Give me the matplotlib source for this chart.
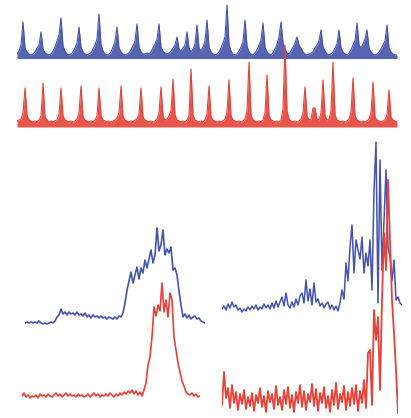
import numpy as np
import matplotlib
matplotlib.use("Agg")
import matplotlib.pyplot as plt

# spike trains, top strip (height above baseline, one sample every ~2 px)
top_blue = [3, 6, 12, 35, 9, 5, 3, 2, 3, 5, 9, 12, 25, 8, 4, 3, 2, 3, 6, 10,
            16, 22, 39, 11, 6, 3, 2, 3, 5, 9, 14, 30, 10, 5, 3, 2, 3, 4, 8, 12,
            18, 43, 12, 6, 3, 2, 3, 5, 10, 15, 30, 9, 5, 3, 2, 3, 4, 7, 11, 16,
            33, 10, 5, 3, 3, 4, 3, 5, 9, 13, 18, 33, 10, 6, 4, 3, 4, 6, 9, 12,
            20, 8, 6, 9, 12, 25, 9, 5, 8, 13, 32, 9, 6, 10, 16, 37, 10, 5, 3, 2,
            3, 5, 9, 14, 20, 52, 12, 6, 3, 2, 3, 6, 10, 15, 37, 11, 5, 3, 2, 4,
            7, 12, 17, 34, 10, 5, 3, 2, 4, 8, 13, 20, 35, 14, 8, 4, 3, 6, 10, 14,
            20, 12, 9, 5, 3, 2, 3, 4, 5, 9, 12, 16, 27, 10, 6, 3, 2, 3, 5, 9,
            13, 27, 9, 5, 3, 2, 4, 7, 12, 16, 34, 12, 9, 13, 18, 27, 9, 5, 3, 2,
            3, 5, 8, 12, 16, 32, 9, 5, 3, 2, 2]

top_red = [4, 5, 6, 12, 37, 10, 5, 4, 3, 4, 3, 5, 9, 42, 8, 5, 3, 4, 3, 4,
           5, 10, 37, 9, 5, 4, 3, 4, 3, 4, 6, 12, 39, 8, 5, 4, 3, 4, 3, 5,
           9, 37, 9, 5, 4, 3, 4, 3, 4, 5, 7, 12, 39, 8, 5, 4, 3, 4, 3, 5,
           6, 11, 37, 8, 5, 4, 3, 4, 3, 4, 6, 12, 38, 9, 5, 6, 9, 14, 46, 10,
           5, 4, 3, 4, 3, 5, 9, 56, 10, 5, 4, 3, 4, 3, 5, 11, 39, 8, 5, 4,
           3, 4, 3, 4, 6, 13, 45, 9, 5, 4, 3, 4, 3, 4, 6, 14, 63, 10, 5, 4,
           3, 4, 3, 5, 12, 50, 9, 5, 4, 3, 4, 3, 5, 16, 80, 14, 6, 4, 3, 4,
           3, 4, 6, 12, 38, 9, 5, 6, 17, 17, 6, 5, 12, 45, 9, 5, 6, 14, 63, 10,
           5, 4, 3, 4, 3, 4, 6, 13, 47, 9, 5, 4, 3, 4, 3, 4, 6, 12, 43, 8,
           5, 4, 3, 4, 5, 10, 35, 8, 5, 4, 3]

# left burst
left_blue = [0, 1, 0, 1, 0, 1, 0, 2, 0, -1, 0, -1, 0, 1, 0, 2, 6, 8, 14, 9,
             11, 8, 11, 9, 10, 8, 11, 8, 9, 7, 10, 6, 8, 5, 8, 6, 7, 5, 7, 5,
             6, 4, 6, 5, 4, 6, 4, 7, 6, 10, 20, 33, 42, 51, 40, 48, 56, 44, 55, 50,
             63, 55, 64, 73, 60, 68, 95, 72, 78, 93, 68, 74, 70, 76, 53, 55, 48, 32, 18, 6,
             9, 5, 8, 4, 6, 7, 4, 5, 2, 1, 0]

left_red = [0, 3, -1, 1, -2, 0, -1, 1, -2, 2, 0, 1, -1, 2, 0, -1, 1, 3, 0, 2,
            -1, 1, 3, 0, 2, 0, 1, -1, 2, 0, 1, -1, 0, 2, -1, 1, 3, 0, 2, -1,
            1, 0, 2, 0, 3, 1, -1, 2, 0, 3, 1, 4, 2, 5, 3, 6, 2, 5, 1, 4,
            0, 6, 13, 31, 39, 59, 89, 80, 91, 85, 113, 84, 96, 79, 103, 96, 59, 46, 33, 24,
            15, 10, 4, 2, 1, 3, 0, 2, -1, 0]

# right burst
right_blue = [2, 5, 1, 7, 3, 9, 4, 6, 1, 3, -1, 2, 0, 4, 1, 5, 2, 6, 1, 4,
              2, 7, 3, 6, 2, 8, 3, 10, 4, 9, 14, 5, 18, 6, 3, 9, 4, 12, 6, 15,
              18, 8, 31, 10, 22, 6, 28, 9, 12, 5, 8, 3, 7, 9, 2, 6, 1, 5, 0, 8,
              21, 12, 48, 30, 64, 86, 38, 71, 61, 52, 74, 38, 58, 45, 71, 21, 120, 169, 8, 151,
              41, 90, 141, 64, 54, 30, 51, 11, 14, 8, 6]

right_red = [-5, 28, 2, 12, -8, 15, -3, 8, -10, 6, -4, 10, -9, 3, -6, 7, -11, 5, -3, 12,
             -7, 4, -12, 9, -2, 6, -9, 14, -5, 3, -10, 10, -4, 13, -8, 5, -12, 8, -3, 15,
             -7, 9, -10, 6, -2, 16, -6, 11, -11, 7, -3, 13, -8, 4, -12, 10, -5, 17, -9, 6,
             -2, 14, -10, 8, -6, 12, -4, 15, -11, 9, -3, 20, -8, 47, 50, -5, 90, 60, 83, 10,
             100, 167, 130, 220, 160, 100, 67, 30, -13]

BLUE = "#4553aa"
RED = "#e6423a"
W, H = 411, 418

fig = plt.figure(figsize=(W / 100, H / 100), dpi=100)


def panel(x0, x1, ytop, ybot, base, n):
    # axes placed in pixel terms, one data unit = one pixel vertically
    ax = fig.add_axes([x0 / W, 1 - ybot / H, (x1 - x0) / W, (ybot - ytop) / H])
    ax.set_xlim(0, n - 1)
    ax.set_ylim(-(ybot - base), base - ytop)
    ax.axis("off")
    ax.patch.set_alpha(0)
    return ax


ax = panel(17, 397, 0, 62, 57, len(top_blue))
x = np.arange(len(top_blue))
ax.fill_between(x, -1.5, top_blue, color=BLUE, lw=0, alpha=0.9)
ax.plot(x, top_blue, color=BLUE, lw=0.8)

ax = panel(17, 397, 40, 130, 125, len(top_red))
x = np.arange(len(top_red))
ax.fill_between(x, -2, top_red, color=RED, lw=0, alpha=0.9)
ax.plot(x, top_red, color=RED, lw=0.8)

ax = panel(25, 205, 210, 340, 323, len(left_blue))
ax.plot(np.arange(len(left_blue)), left_blue, color=BLUE, lw=1.2)

ax = panel(22, 200, 250, 418, 396, len(left_red))
ax.plot(np.arange(len(left_red)), left_red, color=RED, lw=1.2)

ax = panel(222, 402, 120, 340, 311, len(right_blue))
ax.plot(np.arange(len(right_blue)), right_blue, color=BLUE, lw=1.1)

ax = panel(222, 398, 160, 418, 400, len(right_red))
ax.plot(np.arange(len(right_red)), right_red, color=RED, lw=1.3)

fig.savefig("out.png", dpi=100)
